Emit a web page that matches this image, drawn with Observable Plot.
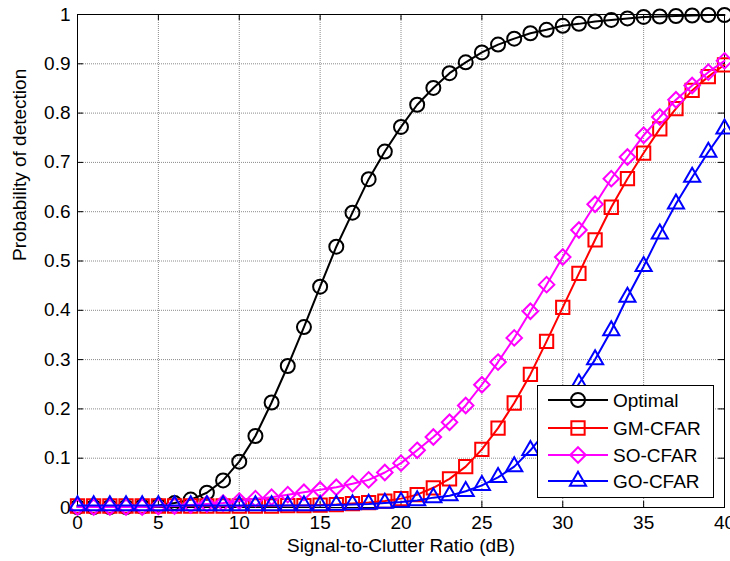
<!DOCTYPE html>
<html>
<head>
<meta charset="utf-8">
<script src="https://cdn.jsdelivr.net/npm/d3@7"></script>
<script src="https://cdn.jsdelivr.net/npm/@observablehq/plot@0.6"></script>
<style>
  body { margin: 0; background: white; }
  #wrap { position: relative; width: 730px; height: 561px; }
  #legend { position: absolute; left: 537px; top: 385px; }
</style>
</head>
<body>
<div id="wrap"></div>
<script>
const snr = [0,1,2,3,4,5,6,7,8,9,10,11,12,13,14,15,16,17,18,19,20,21,22,23,24,25,26,27,28,29,30,31,32,33,34,35,36,37,38,39,40];
const optimal = [0.001,0.001,0.001,0.001,0.002,0.004,0.009,0.016,0.030,0.055,0.093,0.145,0.213,0.287,0.366,0.448,0.529,0.598,0.666,0.722,0.772,0.817,0.851,0.881,0.903,0.923,0.939,0.951,0.962,0.969,0.977,0.981,0.986,0.989,0.992,0.995,0.996,0.997,0.998,0.999,0.999];
const gmCfar = [0.003,0.003,0.003,0.003,0.003,0.003,0.003,0.003,0.003,0.003,0.003,0.003,0.003,0.004,0.004,0.005,0.006,0.008,0.010,0.013,0.018,0.026,0.040,0.058,0.083,0.118,0.161,0.212,0.270,0.337,0.406,0.475,0.543,0.609,0.667,0.719,0.768,0.809,0.846,0.874,0.898];
const soCfar = [0.001,0.001,0.001,0.001,0.001,0.002,0.003,0.005,0.007,0.009,0.013,0.018,0.021,0.026,0.031,0.036,0.041,0.048,0.056,0.071,0.090,0.116,0.143,0.173,0.207,0.249,0.295,0.344,0.398,0.452,0.508,0.563,0.615,0.667,0.711,0.755,0.792,0.827,0.856,0.883,0.906];
const goCfar = [0.004,0.004,0.004,0.004,0.004,0.004,0.004,0.004,0.004,0.004,0.004,0.004,0.004,0.004,0.004,0.004,0.005,0.006,0.007,0.009,0.011,0.014,0.020,0.024,0.033,0.045,0.061,0.083,0.116,0.156,0.202,0.251,0.300,0.359,0.427,0.489,0.555,0.616,0.670,0.721,0.768];

const seriesNames = ["Optimal","GM-CFAR","SO-CFAR","GO-CFAR"];
const seriesColors = ["#000000","#ff0000","#ff00ff","#0000ff"];
const seriesSymbols = ["circle","square","diamond2","triangle"];
const seriesR = [7, 7.5, 7, 6];
const seriesValues = [optimal, gmCfar, soCfar, goCfar];

const xTicks = [0,5,10,15,20,25,30,35,40];
const yTicks = [0,0.1,0.2,0.3,0.4,0.5,0.6,0.7,0.8,0.9,1];
const yTickLabels = ["0","0.1","0.2","0.3","0.4","0.5","0.6","0.7","0.8","0.9","1"];
const xLabel = "Signal-to-Clutter Ratio (dB)";
const yLabel = "Probability of detection";

const FONT = "'Liberation Sans', Arial, Helvetica, sans-serif";
const FS = 19;

const plotW = 730 - 77 - 6;
const plotH = 561 - 14 - 54;

const seriesMarks = [];
seriesNames.forEach((name, i) => {
  const rows = snr.map((x, j) => ({x, y: seriesValues[i][j]}));
  seriesMarks.push(Plot.line(rows, {x: "x", y: "y", stroke: seriesColors[i], strokeWidth: 2}));
  seriesMarks.push(Plot.dot(rows, {x: "x", y: "y", symbol: seriesSymbols[i], r: seriesR[i], stroke: seriesColors[i], strokeWidth: 2, fill: "none"}));
});

const gridStyle = {stroke: "#8a8a8a", strokeOpacity: 1, strokeWidth: 1, strokeDasharray: "1,1"};

const chart = Plot.plot({
  width: 730,
  height: 561,
  marginLeft: 77,
  marginRight: 6,
  marginTop: 14,
  marginBottom: 54,
  style: {fontFamily: FONT, fontSize: FS + "px", background: "white", overflow: "visible", color: "black"},
  x: {domain: [0, 40]},
  y: {domain: [0, 1]},
  marks: [
    Plot.gridX(xTicks, gridStyle),
    Plot.gridY(yTicks, gridStyle),
    Plot.tickX(xTicks, {x: d => d, stroke: "black", insetTop: plotH - 6}),
    Plot.tickX(xTicks, {x: d => d, stroke: "black", insetBottom: plotH - 6}),
    Plot.tickY(yTicks, {y: d => d, stroke: "black", insetRight: plotW - 6}),
    Plot.tickY(yTicks, {y: d => d, stroke: "black", insetLeft: plotW - 6}),
    Plot.frame({stroke: "black", strokeWidth: 1}),
    ...seriesMarks,
    Plot.axisX(xTicks, {tickSize: 0, tickPadding: 8, fontSize: FS, label: null}),
    Plot.axisY(yTicks, {tickSize: 0, tickPadding: 7, fontSize: FS, label: null, tickFormat: (d, i) => yTickLabels[i]}),
    Plot.text([xLabel], {text: d => d, frameAnchor: "bottom", dy: 44, fontSize: FS}),
    Plot.text([yLabel], {text: d => d, frameAnchor: "left", rotate: -90, dx: -58, fontSize: FS})
  ]
});

const wrap = document.getElementById("wrap");
wrap.appendChild(chart);

// Legend overlay
const lw = 176, lh = 112;
const legend = d3.select(wrap).append("svg")
  .attr("id", "legend")
  .attr("width", lw + 1)
  .attr("height", lh + 1)
  .style("overflow", "visible");
legend.append("rect")
  .attr("x", 0.5).attr("y", 0.5)
  .attr("width", lw).attr("height", lh)
  .attr("fill", "white").attr("stroke", "black").attr("stroke-width", 1);
const rowY = [15, 43, 70, 96];
const symMap = {circle: d3.symbolCircle, square: d3.symbolSquare, diamond2: d3.symbolDiamond2, triangle: d3.symbolTriangle};
seriesNames.forEach((name, i) => {
  const g = legend.append("g").attr("transform", `translate(0,${rowY[i]})`);
  g.append("line").attr("x1", 11).attr("x2", 71).attr("y1", 0).attr("y2", 0)
    .attr("stroke", seriesColors[i]).attr("stroke-width", 2);
  const r = seriesR[i];
  g.append("path")
    .attr("d", d3.symbol(symMap[seriesSymbols[i]], Math.PI * r * r)())
    .attr("transform", "translate(41,0)")
    .attr("fill", "none").attr("stroke", seriesColors[i]).attr("stroke-width", 2);
  g.append("text").attr("x", 76).attr("y", 0).attr("dy", "0.35em")
    .attr("font-family", FONT).attr("font-size", FS).attr("fill", "black")
    .text(name);
});
</script>
</body>
</html>
